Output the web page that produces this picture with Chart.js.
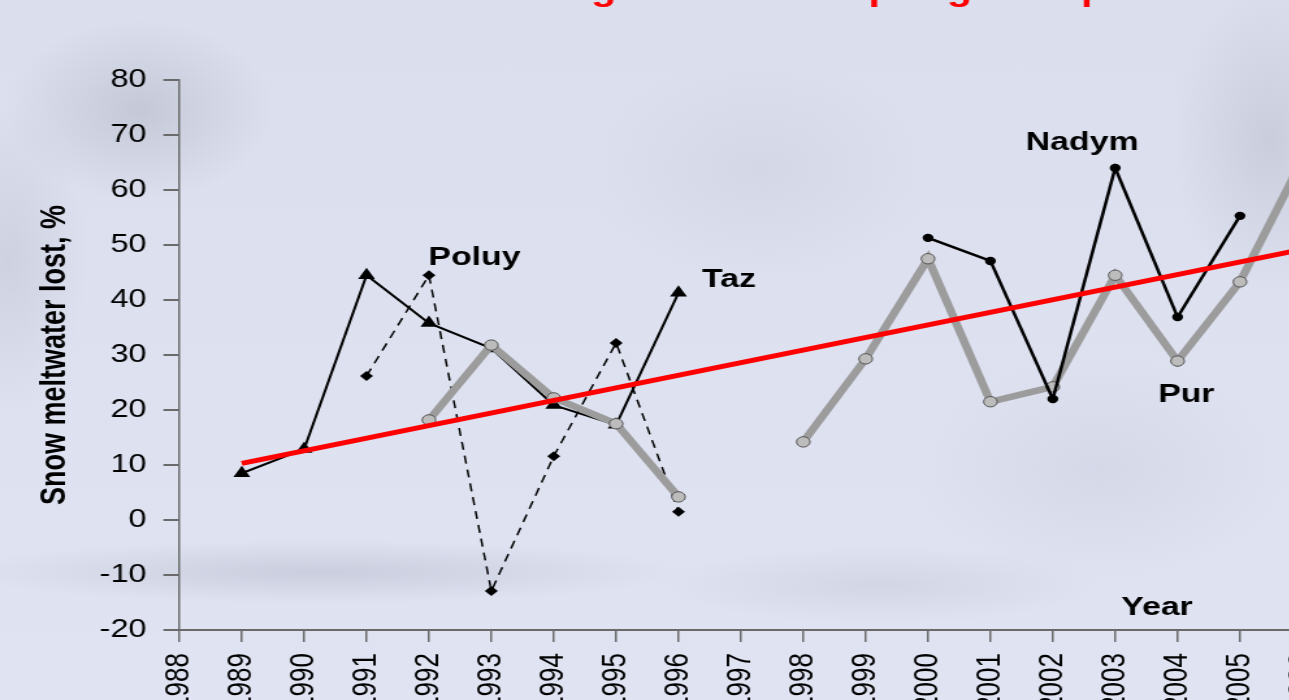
<!DOCTYPE html>
<html lang="en">
<head>
    <meta charset="UTF-8">
    <title>Snow meltwater lost</title>
    <script src="https://cdn.jsdelivr.net/npm/chart.js"></script>
    <style>
        html, body {
            margin: 0;
            padding: 0;
            width: 1289px;
            height: 700px;
            overflow: hidden;
        }
        body {
            position: relative;
            background-color: #dde1ef;
            background-image:
                radial-gradient(ellipse 190px 130px at 140px 110px, rgba(160,165,182,0.40), transparent 70%),
                radial-gradient(ellipse 110px 220px at 10px 260px, rgba(170,175,190,0.30), transparent 70%),
                radial-gradient(ellipse 520px 45px at 320px 572px, rgba(170,175,192,0.40), transparent 70%),
                radial-gradient(ellipse 320px 55px at 880px 585px, rgba(180,185,200,0.30), transparent 70%),
                radial-gradient(ellipse 140px 220px at 1270px 140px, rgba(165,170,188,0.35), transparent 70%),
                radial-gradient(ellipse 240px 160px at 760px 170px, rgba(190,195,212,0.30), transparent 70%),
                radial-gradient(ellipse 260px 160px at 1100px 470px, rgba(190,195,212,0.30), transparent 70%),
                linear-gradient(#dbdfed, #dfe3f2);
        }
        /* the source picture is stretched sideways, so the canvas is too */
        #wrap {
            position: absolute;
            left: 0;
            top: 0;
            width: 1092px;
            height: 700px;
            transform: scaleX(1.3);
            transform-origin: 0 0;
        }
    </style>
</head>
<body>
    <div id="wrap">
        <canvas id="chart" width="1092" height="700"></canvas>
    </div>

    <script>
        // years on the x axis
        const years = [1988, 1989, 1990, 1991, 1992, 1993, 1994, 1995, 1996, 1997,
                       1998, 1999, 2000, 2001, 2002, 2003, 2004, 2005, 2006, 2007];

        // snow meltwater lost, % (one value per year, null = no data)
        const taz   = [null, 8.5, 12.9, 44.5, 35.8, 31.2, 20.9, 17.3, 41.3, null,
                       null, null, null, null, null, null, null, null, null, null];
        const poluy = [null, null, null, 26.2, 44.5, -12.9, 11.6, 32.2, 1.5, null,
                       null, null, null, null, null, null, null, null, null, null];
        const pur   = [null, null, null, null, 18.2, 31.8, 22.2, 17.5, 4.2, null,
                       14.2, 29.3, 47.5, 21.5, 24.2, 44.5, 28.9, 43.3, 65.5, null];
        const nadym = [null, null, null, null, null, null, null, null, null, null,
                       null, null, 51.3, 47.1, 22.0, 64.0, 36.9, 55.3, null, null];
        const trend = [null, 10.3, null, null, null, null, null, null, null, null,
                       null, null, null, null, null, null, null, null, 49.2, null];

        const yTicks = { min: -20, max: 80, step: 10 };

        // text labels placed in data units
        const notes = [
            { text: 'Poluy', x: 1992.73, y: 46.4 },
            { text: 'Taz',   x: 1996.81, y: 42.4 },
            { text: 'Nadym', x: 2002.47, y: 67.3 },
            { text: 'Pur',   x: 2004.14, y: 21.5 },
            { text: 'Year',  x: 2003.67, y: -17.3 }
        ];
        const title = 'Increasing loss in the spring melt period';

        const FONT = '"Liberation Sans", Arial, sans-serif';

        function pts(values) {
            return years.map((yr, i) => ({ x: yr, y: values[i] }));
        }

        const notesPlugin = {
            id: 'notes',
            afterDatasetsDraw(chart) {
                const ctx = chart.ctx;
                const xs = chart.scales.x, ys = chart.scales.y;
                ctx.save();
                ctx.fillStyle = '#000';
                ctx.font = 'bold 26px ' + FONT;
                ctx.textAlign = 'center';
                ctx.textBaseline = 'alphabetic';
                notes.forEach(n => {
                    ctx.fillText(n.text, xs.getPixelForValue(n.x), ys.getPixelForValue(n.y));
                });
                // slide title, cut off by the top edge: only the descenders show
                ctx.fillStyle = '#ff0000';
                ctx.font = 'bold 32px ' + FONT;
                ctx.textAlign = 'left';
                ctx.fillText(title, 314, 0);
                ctx.restore();
            }
        };

        new Chart(document.getElementById('chart'), {
            type: 'line',
            data: {
                datasets: [
                    {
                        label: 'Trend',
                        data: pts(trend),
                        borderColor: '#ff0000',
                        borderWidth: 5,
                        pointRadius: 0,
                        spanGaps: true,
                        order: 0
                    },
                    {
                        label: 'Nadym',
                        data: pts(nadym),
                        borderColor: '#000',
                        borderWidth: 2.5,
                        pointRadius: 4.2,
                        pointBackgroundColor: '#000',
                        pointBorderColor: '#000',
                        pointBorderWidth: 0,
                        order: 1
                    },
                    {
                        label: 'Pur',
                        data: pts(pur),
                        borderColor: '#9c9c9c',
                        borderWidth: 6.5,
                        pointRadius: 5.2,
                        pointBackgroundColor: '#bcbcbc',
                        pointBorderColor: '#555',
                        pointBorderWidth: 1,
                        order: 2
                    },
                    {
                        label: 'Taz',
                        data: pts(taz),
                        borderColor: '#000',
                        borderWidth: 2,
                        pointStyle: 'triangle',
                        pointRadius: 7.5,
                        pointBackgroundColor: '#000',
                        pointBorderColor: '#000',
                        pointBorderWidth: 0,
                        order: 3
                    },
                    {
                        label: 'Poluy',
                        data: pts(poluy),
                        borderColor: '#000',
                        borderWidth: 1.5,
                        borderDash: [8, 6],
                        pointStyle: 'rectRot',
                        pointRadius: 5,
                        pointBackgroundColor: '#000',
                        pointBorderColor: '#000',
                        pointBorderWidth: 0,
                        order: 4
                    }
                ]
            },
            options: {
                responsive: false,
                animation: false,
                devicePixelRatio: 1,
                layout: { padding: { top: 80, right: 17, left: 0, bottom: 0 } },
                plugins: {
                    legend: { display: false },
                    tooltip: { enabled: false }
                },
                scales: {
                    x: {
                        type: 'linear',
                        min: years[0],
                        max: years[years.length - 1],
                        afterFit: s => { s.height = 70; },
                        grid: {
                            drawOnChartArea: false,
                            drawTicks: true,
                            tickLength: 12,
                            color: '#6a6a6a',
                            lineWidth: 1.5
                        },
                        border: { display: true, color: '#6a6a6a', width: 2 },
                        ticks: {
                            stepSize: 1,
                            autoSkip: false,
                            maxRotation: 90,
                            minRotation: 90,
                            padding: 11,
                            color: '#000',
                            font: { family: FONT, size: 26 },
                            callback: v => String(v)
                        }
                    },
                    y: {
                        min: yTicks.min,
                        max: yTicks.max,
                        afterFit: s => { s.width = 138; },
                        grid: {
                            drawOnChartArea: false,
                            drawTicks: true,
                            tickLength: 12.3,
                            color: '#6a6a6a',
                            lineWidth: 2
                        },
                        border: { display: true, color: '#6a6a6a', width: 1.5 },
                        ticks: {
                            stepSize: yTicks.step,
                            padding: 13,
                            color: '#000',
                            font: { family: FONT, size: 25 }
                        },
                        title: {
                            display: true,
                            text: 'Snow meltwater lost, %',
                            color: '#000',
                            font: { family: FONT, size: 27, weight: 'bold' },
                            padding: { top: 26, bottom: 0 }
                        }
                    }
                }
            },
            plugins: [notesPlugin]
        });
    </script>
</body>
</html>
